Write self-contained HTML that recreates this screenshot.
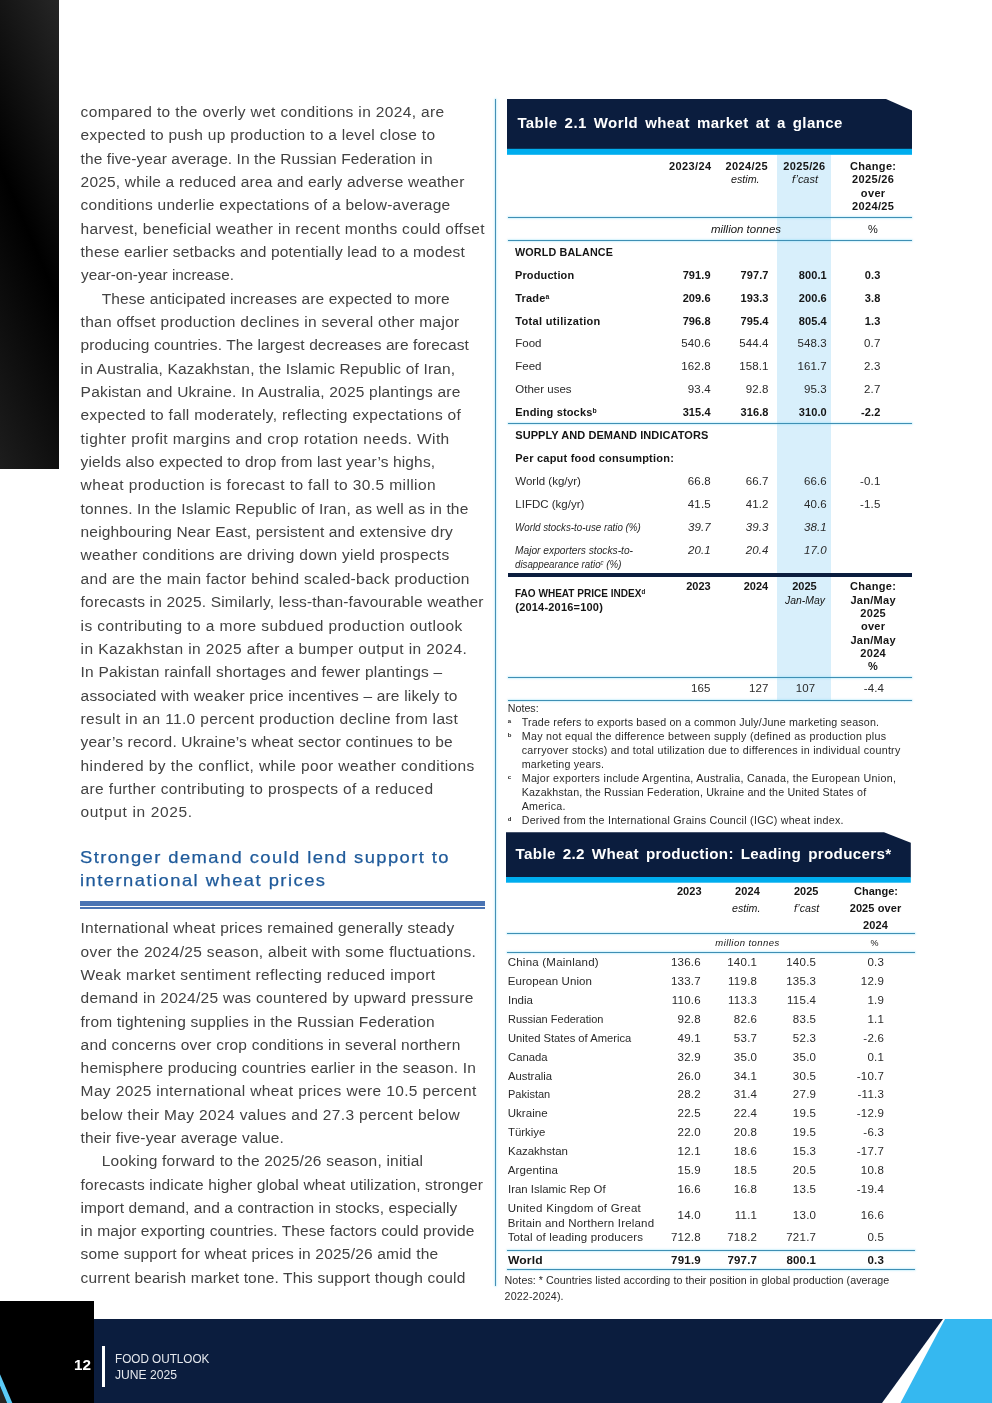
<!DOCTYPE html>
<html lang="en"><head><meta charset="utf-8"><title>Food Outlook June 2025 - page 12</title>
<style>
html,body{margin:0;padding:0;background:#fff;}
body{width:992px;height:1403px;position:relative;overflow:hidden;font-family:'Liberation Sans', sans-serif;}
.t{position:absolute;white-space:pre;margin:0;padding:0;}
sup{font-size:62%;line-height:0;vertical-align:baseline;position:relative;top:-0.38em;}
</style></head><body>
<div style="position:absolute;left:0px;top:0px;width:59px;height:469px;background:#000;background:linear-gradient(67deg,#1d1d1d 0%,#000 50%,#262626 100%);"></div>
<svg style="position:absolute;left:0;top:1300px" width="992" height="103" viewBox="0 1300 992 103">
<rect x="94" y="1319" width="898" height="84" fill="#0b1d3e"/>
<polygon points="943,1319 992,1319 992,1403 882,1403" fill="#ffffff"/>
<polygon points="945,1319 992,1319 992,1403 900.5,1403" fill="#35b8f0"/>
<rect x="0" y="1301" width="94" height="102" fill="#000"/>
<polygon points="0,1386 7.1,1403 0,1403" fill="#262422"/>
<polygon points="0,1374.2 12.3,1403 7.1,1403 0,1385.8" fill="#5bcbf7"/>
<rect x="102" y="1346" width="3" height="41" fill="#fff"/>
</svg>
<div style="position:absolute;left:495px;top:99px;width:1px;height:1186.6px;background:#4690b5;box-shadow:0 0 1.5px 0.5px rgba(120,215,245,0.5);"></div>
<div style="position:absolute;left:79.6px;top:901px;width:405.4px;height:4.7px;background:#4a74b4;"></div>
<div style="position:absolute;left:79.6px;top:907.1px;width:405.4px;height:1.9px;background:#4a74b4;"></div>
<svg style="position:absolute;left:507px;top:99px" width="405" height="56" viewBox="0 0 405 56"><polygon points="0,0 379,0 405,11.4 405,50 0,50" fill="#0b1d3e"/><rect x="0" y="49.8" width="405" height="6" fill="#00adee"/></svg>
<div style="position:absolute;left:777px;top:155px;width:54px;height:545px;background:#d8effb;"></div>
<div style="position:absolute;left:508px;top:217px;width:404px;height:1px;background:#3f8fb4;box-shadow:0 0 1.5px 0.5px rgba(120,215,245,0.55);"></div>
<div style="position:absolute;left:508px;top:240px;width:404px;height:1px;background:#3f8fb4;box-shadow:0 0 1.5px 0.5px rgba(120,215,245,0.55);"></div>
<div style="position:absolute;left:508px;top:423px;width:404px;height:1px;background:#3f8fb4;box-shadow:0 0 1.5px 0.5px rgba(120,215,245,0.55);"></div>
<div style="position:absolute;left:508px;top:677px;width:404px;height:1px;background:#3f8fb4;box-shadow:0 0 1.5px 0.5px rgba(120,215,245,0.55);"></div>
<div style="position:absolute;left:508px;top:700px;width:404px;height:1px;background:#3f8fb4;box-shadow:0 0 1.5px 0.5px rgba(120,215,245,0.55);"></div>
<div style="position:absolute;left:507.6px;top:572.8px;width:404.4px;height:3.9px;background:#0b1d3e;"></div>
<svg style="position:absolute;left:506px;top:832px" width="405" height="51" viewBox="0 0 405 51"><polygon points="0,0.3 378,0.3 404.8,10.8 404.8,45.5 0,45.5" fill="#0b1d3e"/><rect x="0" y="45" width="404.8" height="5.7" fill="#00adee"/></svg>
<div style="position:absolute;left:507px;top:933px;width:408px;height:1px;background:#3f8fb4;box-shadow:0 0 1.5px 0.5px rgba(120,215,245,0.55);"></div>
<div style="position:absolute;left:507px;top:952px;width:408px;height:1px;background:#3f8fb4;box-shadow:0 0 1.5px 0.5px rgba(120,215,245,0.55);"></div>
<div style="position:absolute;left:507px;top:1250px;width:408px;height:1px;background:#3f8fb4;box-shadow:0 0 1.5px 0.5px rgba(120,215,245,0.55);"></div>
<div style="position:absolute;left:507px;top:1269px;width:408px;height:1px;background:#3f8fb4;box-shadow:0 0 1.5px 0.5px rgba(120,215,245,0.55);"></div>
<div class="t" style="left:74.00px;transform:scaleX(0.9855);transform-origin:0 0;top:1355px;font:700 15.5px 'Liberation Sans', sans-serif;line-height:19px;color:#fff;">12</div>
<div class="t" style="left:115.00px;transform:scaleX(0.9013);transform-origin:0 0;top:1350px;font:400 13px 'Liberation Sans', sans-serif;line-height:17px;color:#e6e9ee;">FOOD OUTLOOK</div>
<div class="t" style="left:115.00px;transform:scaleX(0.9325);transform-origin:0 0;top:1366px;font:400 13px 'Liberation Sans', sans-serif;line-height:17px;color:#e6e9ee;">JUNE 2025</div>
<div class="t" style="left:80.60px;top:102px;font:400 15.5px 'Liberation Sans', sans-serif;line-height:19px;color:#424242;letter-spacing:0.349px;">compared to the overly wet conditions in 2024, are</div>
<div class="t" style="left:80.60px;top:125px;font:400 15.5px 'Liberation Sans', sans-serif;line-height:19px;color:#424242;letter-spacing:0.288px;">expected to push up production to a level close to</div>
<div class="t" style="left:80.60px;top:149px;font:400 15.5px 'Liberation Sans', sans-serif;line-height:19px;color:#424242;letter-spacing:0.078px;">the five-year average. In the Russian Federation in</div>
<div class="t" style="left:80.60px;top:172px;font:400 15.5px 'Liberation Sans', sans-serif;line-height:19px;color:#424242;letter-spacing:0.191px;">2025, while a reduced area and early adverse weather</div>
<div class="t" style="left:80.60px;top:195px;font:400 15.5px 'Liberation Sans', sans-serif;line-height:19px;color:#424242;letter-spacing:0.257px;">conditions underlie expectations of a below-average</div>
<div class="t" style="left:80.60px;top:219px;font:400 15.5px 'Liberation Sans', sans-serif;line-height:19px;color:#424242;letter-spacing:0.309px;">harvest, beneficial weather in recent months could offset</div>
<div class="t" style="left:80.60px;top:242px;font:400 15.5px 'Liberation Sans', sans-serif;line-height:19px;color:#424242;letter-spacing:0.190px;">these earlier setbacks and potentially lead to a modest</div>
<div class="t" style="left:80.60px;transform:scaleX(0.9860);transform-origin:0 0;top:265px;font:400 15.5px 'Liberation Sans', sans-serif;line-height:19px;color:#424242;">year-on-year increase.</div>
<div class="t" style="left:101.80px;top:289px;font:400 15.5px 'Liberation Sans', sans-serif;line-height:19px;color:#424242;letter-spacing:0.088px;">These anticipated increases are expected to more</div>
<div class="t" style="left:80.60px;top:312px;font:400 15.5px 'Liberation Sans', sans-serif;line-height:19px;color:#424242;letter-spacing:0.290px;">than offset production declines in several other major</div>
<div class="t" style="left:80.60px;top:335px;font:400 15.5px 'Liberation Sans', sans-serif;line-height:19px;color:#424242;letter-spacing:0.094px;">producing countries. The largest decreases are forecast</div>
<div class="t" style="left:80.60px;top:359px;font:400 15.5px 'Liberation Sans', sans-serif;line-height:19px;color:#424242;letter-spacing:0.172px;">in Australia, Kazakhstan, the Islamic Republic of Iran,</div>
<div class="t" style="left:80.60px;top:382px;font:400 15.5px 'Liberation Sans', sans-serif;line-height:19px;color:#424242;letter-spacing:0.206px;">Pakistan and Ukraine. In Australia, 2025 plantings are</div>
<div class="t" style="left:80.60px;top:405px;font:400 15.5px 'Liberation Sans', sans-serif;line-height:19px;color:#424242;letter-spacing:0.297px;">expected to fall moderately, reflecting expectations of</div>
<div class="t" style="left:80.60px;top:429px;font:400 15.5px 'Liberation Sans', sans-serif;line-height:19px;color:#424242;letter-spacing:0.403px;">tighter profit margins and crop rotation needs. With</div>
<div class="t" style="left:80.60px;top:452px;font:400 15.5px 'Liberation Sans', sans-serif;line-height:19px;color:#424242;letter-spacing:0.137px;">yields also expected to drop from last year’s highs,</div>
<div class="t" style="left:80.60px;top:475px;font:400 15.5px 'Liberation Sans', sans-serif;line-height:19px;color:#424242;letter-spacing:0.406px;">wheat production is forecast to fall to 30.5 million</div>
<div class="t" style="left:80.60px;top:499px;font:400 15.5px 'Liberation Sans', sans-serif;line-height:19px;color:#424242;letter-spacing:0.166px;">tonnes. In the Islamic Republic of Iran, as well as in the</div>
<div class="t" style="left:80.60px;top:522px;font:400 15.5px 'Liberation Sans', sans-serif;line-height:19px;color:#424242;letter-spacing:0.150px;">neighbouring Near East, persistent and extensive dry</div>
<div class="t" style="left:80.60px;top:545px;font:400 15.5px 'Liberation Sans', sans-serif;line-height:19px;color:#424242;letter-spacing:0.272px;">weather conditions are driving down yield prospects</div>
<div class="t" style="left:80.60px;top:569px;font:400 15.5px 'Liberation Sans', sans-serif;line-height:19px;color:#424242;letter-spacing:0.286px;">and are the main factor behind scaled-back production</div>
<div class="t" style="left:80.60px;top:592px;font:400 15.5px 'Liberation Sans', sans-serif;line-height:19px;color:#424242;letter-spacing:0.181px;">forecasts in 2025. Similarly, less-than-favourable weather</div>
<div class="t" style="left:80.60px;top:616px;font:400 15.5px 'Liberation Sans', sans-serif;line-height:19px;color:#424242;letter-spacing:0.422px;">is contributing to a more subdued production outlook</div>
<div class="t" style="left:80.60px;top:639px;font:400 15.5px 'Liberation Sans', sans-serif;line-height:19px;color:#424242;letter-spacing:0.425px;">in Kazakhstan in 2025 after a bumper output in 2024.</div>
<div class="t" style="left:80.60px;top:662px;font:400 15.5px 'Liberation Sans', sans-serif;line-height:19px;color:#424242;letter-spacing:0.212px;">In Pakistan rainfall shortages and fewer plantings –</div>
<div class="t" style="left:80.60px;top:686px;font:400 15.5px 'Liberation Sans', sans-serif;line-height:19px;color:#424242;letter-spacing:0.179px;">associated with weaker price incentives – are likely to</div>
<div class="t" style="left:80.60px;top:709px;font:400 15.5px 'Liberation Sans', sans-serif;line-height:19px;color:#424242;letter-spacing:0.343px;">result in an 11.0 percent production decline from last</div>
<div class="t" style="left:80.60px;top:732px;font:400 15.5px 'Liberation Sans', sans-serif;line-height:19px;color:#424242;letter-spacing:0.147px;">year’s record. Ukraine’s wheat sector continues to be</div>
<div class="t" style="left:80.60px;top:756px;font:400 15.5px 'Liberation Sans', sans-serif;line-height:19px;color:#424242;letter-spacing:0.399px;">hindered by the conflict, while poor weather conditions</div>
<div class="t" style="left:80.60px;top:779px;font:400 15.5px 'Liberation Sans', sans-serif;line-height:19px;color:#424242;letter-spacing:0.354px;">are further contributing to prospects of a reduced</div>
<div class="t" style="left:80.60px;top:802px;font:400 15.5px 'Liberation Sans', sans-serif;line-height:19px;color:#424242;letter-spacing:0.638px;">output in 2025.</div>
<div class="t" style="left:80.60px;top:918px;font:400 15.5px 'Liberation Sans', sans-serif;line-height:19px;color:#424242;letter-spacing:0.213px;">International wheat prices remained generally steady</div>
<div class="t" style="left:80.60px;top:942px;font:400 15.5px 'Liberation Sans', sans-serif;line-height:19px;color:#424242;letter-spacing:0.331px;">over the 2024/25 season, albeit with some fluctuations.</div>
<div class="t" style="left:80.60px;top:965px;font:400 15.5px 'Liberation Sans', sans-serif;line-height:19px;color:#424242;letter-spacing:0.371px;">Weak market sentiment reflecting reduced import</div>
<div class="t" style="left:80.60px;top:988px;font:400 15.5px 'Liberation Sans', sans-serif;line-height:19px;color:#424242;letter-spacing:0.296px;">demand in 2024/25 was countered by upward pressure</div>
<div class="t" style="left:80.60px;top:1012px;font:400 15.5px 'Liberation Sans', sans-serif;line-height:19px;color:#424242;letter-spacing:0.191px;">from tightening supplies in the Russian Federation</div>
<div class="t" style="left:80.60px;top:1035px;font:400 15.5px 'Liberation Sans', sans-serif;line-height:19px;color:#424242;letter-spacing:0.210px;">and concerns over crop conditions in several northern</div>
<div class="t" style="left:80.60px;top:1058px;font:400 15.5px 'Liberation Sans', sans-serif;line-height:19px;color:#424242;letter-spacing:0.169px;">hemisphere producing countries earlier in the season. In</div>
<div class="t" style="left:80.60px;top:1081px;font:400 15.5px 'Liberation Sans', sans-serif;line-height:19px;color:#424242;letter-spacing:0.371px;">May 2025 international wheat prices were 10.5 percent</div>
<div class="t" style="left:80.60px;top:1105px;font:400 15.5px 'Liberation Sans', sans-serif;line-height:19px;color:#424242;letter-spacing:0.353px;">below their May 2024 values and 27.3 percent below</div>
<div class="t" style="left:80.60px;top:1128px;font:400 15.5px 'Liberation Sans', sans-serif;line-height:19px;color:#424242;letter-spacing:0.118px;">their five-year average value.</div>
<div class="t" style="left:101.80px;top:1151px;font:400 15.5px 'Liberation Sans', sans-serif;line-height:19px;color:#424242;letter-spacing:0.206px;">Looking forward to the 2025/26 season, initial</div>
<div class="t" style="left:80.60px;top:1175px;font:400 15.5px 'Liberation Sans', sans-serif;line-height:19px;color:#424242;letter-spacing:0.146px;">forecasts indicate higher global wheat utilization, stronger</div>
<div class="t" style="left:80.60px;top:1198px;font:400 15.5px 'Liberation Sans', sans-serif;line-height:19px;color:#424242;letter-spacing:0.085px;">import demand, and a contraction in stocks, especially</div>
<div class="t" style="left:80.60px;top:1221px;font:400 15.5px 'Liberation Sans', sans-serif;line-height:19px;color:#424242;letter-spacing:0.083px;">in major exporting countries. These factors could provide</div>
<div class="t" style="left:80.60px;top:1244px;font:400 15.5px 'Liberation Sans', sans-serif;line-height:19px;color:#424242;letter-spacing:0.196px;">some support for wheat prices in 2025/26 amid the</div>
<div class="t" style="left:80.60px;top:1268px;font:400 15.5px 'Liberation Sans', sans-serif;line-height:19px;color:#424242;letter-spacing:0.160px;">current bearish market tone. This support though could</div>
<div class="t" style="left:80.40px;transform:scaleX(1.0800);transform-origin:0 0;top:847px;font:400 17px 'Liberation Sans', sans-serif;line-height:21px;color:#1f5a9a;letter-spacing:1.313px;-webkit-text-stroke:0.25px #1f5a9a;">Stronger demand could lend support to</div>
<div class="t" style="left:80.40px;transform:scaleX(1.0800);transform-origin:0 0;top:870px;font:400 17px 'Liberation Sans', sans-serif;line-height:21px;color:#1f5a9a;letter-spacing:1.363px;-webkit-text-stroke:0.25px #1f5a9a;">international wheat prices</div>
<div class="t" style="left:517.40px;top:113px;font:700 15px 'Liberation Sans', sans-serif;line-height:19px;color:#fff;letter-spacing:0.417px;word-spacing:2.5px;">Table 2.1 World wheat market at a glance</div>
<div class="t" style="left:669.00px;top:159px;font:700 11px 'Liberation Sans', sans-serif;line-height:14px;color:#151515;letter-spacing:0.372px;">2023/24</div>
<div class="t" style="left:725.50px;top:159px;font:700 11px 'Liberation Sans', sans-serif;line-height:14px;color:#151515;letter-spacing:0.372px;">2024/25</div>
<div class="t" style="left:783.20px;top:159px;font:700 11px 'Liberation Sans', sans-serif;line-height:14px;color:#151515;letter-spacing:0.372px;">2025/26</div>
<div class="t" style="left:730.70px;transform:scaleX(0.9325);transform-origin:0 0;top:172px;font:italic 400 11.5px 'Liberation Sans', sans-serif;line-height:14px;color:#151515;">estim.</div>
<div class="t" style="left:791.50px;transform:scaleX(0.9530);transform-origin:0 0;top:172px;font:italic 400 11.5px 'Liberation Sans', sans-serif;line-height:14px;color:#151515;">f’cast</div>
<div class="t" style="left:849.95px;top:159px;font:700 11px 'Liberation Sans', sans-serif;line-height:14px;color:#151515;letter-spacing:0.350px;">Change:</div>
<div class="t" style="left:852.07px;top:172px;font:700 11px 'Liberation Sans', sans-serif;line-height:14px;color:#151515;letter-spacing:0.350px;">2025/26</div>
<div class="t" style="left:860.85px;top:186px;font:700 11px 'Liberation Sans', sans-serif;line-height:14px;color:#151515;letter-spacing:0.350px;">over</div>
<div class="t" style="left:852.07px;top:199px;font:700 11px 'Liberation Sans', sans-serif;line-height:14px;color:#151515;letter-spacing:0.350px;">2024/25</div>
<div class="t" style="left:711.00px;transform:scaleX(0.9953);transform-origin:0 0;top:222px;font:italic 400 11.5px 'Liberation Sans', sans-serif;line-height:14px;color:#151515;">million tonnes</div>
<div class="t" style="left:868.11px;top:222px;font:400 11px 'Liberation Sans', sans-serif;line-height:14px;color:#151515;">%</div>
<div class="t" style="left:515.30px;transform:scaleX(0.9777);transform-origin:0 0;top:245px;font:700 11px 'Liberation Sans', sans-serif;line-height:14px;color:#151515;letter-spacing:0.150px;">WORLD BALANCE</div>
<div class="t" style="left:515.30px;transform:scaleX(0.9955);transform-origin:0 0;top:268px;font:700 11px 'Liberation Sans', sans-serif;line-height:14px;color:#151515;letter-spacing:0.150px;">Production</div>
<div class="t" style="left:682.67px;top:268px;font:700 11px 'Liberation Sans', sans-serif;line-height:14px;color:#151515;letter-spacing:0.100px;">791.9</div>
<div class="t" style="left:740.57px;top:268px;font:700 11px 'Liberation Sans', sans-serif;line-height:14px;color:#151515;letter-spacing:0.100px;">797.7</div>
<div class="t" style="left:798.77px;top:268px;font:700 11px 'Liberation Sans', sans-serif;line-height:14px;color:#151515;letter-spacing:0.100px;">800.1</div>
<div class="t" style="left:864.80px;top:268px;font:700 11px 'Liberation Sans', sans-serif;line-height:14px;color:#151515;letter-spacing:0.100px;">0.3</div>
<div class="t" style="left:515.30px;top:291px;font:700 11px 'Liberation Sans', sans-serif;line-height:14px;color:#151515;letter-spacing:0.150px;">Trade<sup>a</sup></div>
<div class="t" style="left:682.67px;top:291px;font:700 11px 'Liberation Sans', sans-serif;line-height:14px;color:#151515;letter-spacing:0.100px;">209.6</div>
<div class="t" style="left:740.57px;top:291px;font:700 11px 'Liberation Sans', sans-serif;line-height:14px;color:#151515;letter-spacing:0.100px;">193.3</div>
<div class="t" style="left:798.77px;top:291px;font:700 11px 'Liberation Sans', sans-serif;line-height:14px;color:#151515;letter-spacing:0.100px;">200.6</div>
<div class="t" style="left:864.80px;top:291px;font:700 11px 'Liberation Sans', sans-serif;line-height:14px;color:#151515;letter-spacing:0.100px;">3.8</div>
<div class="t" style="left:515.30px;top:314px;font:700 11px 'Liberation Sans', sans-serif;line-height:14px;color:#151515;letter-spacing:0.322px;">Total utilization</div>
<div class="t" style="left:682.67px;top:314px;font:700 11px 'Liberation Sans', sans-serif;line-height:14px;color:#151515;letter-spacing:0.100px;">796.8</div>
<div class="t" style="left:740.57px;top:314px;font:700 11px 'Liberation Sans', sans-serif;line-height:14px;color:#151515;letter-spacing:0.100px;">795.4</div>
<div class="t" style="left:798.77px;top:314px;font:700 11px 'Liberation Sans', sans-serif;line-height:14px;color:#151515;letter-spacing:0.100px;">805.4</div>
<div class="t" style="left:864.80px;top:314px;font:700 11px 'Liberation Sans', sans-serif;line-height:14px;color:#151515;letter-spacing:0.100px;">1.3</div>
<div class="t" style="left:515.30px;top:336px;font:400 11.5px 'Liberation Sans', sans-serif;line-height:14px;color:#2a2a2a;">Food</div>
<div class="t" style="left:681.34px;top:336px;font:400 11.5px 'Liberation Sans', sans-serif;line-height:14px;color:#2a2a2a;letter-spacing:0.120px;">540.6</div>
<div class="t" style="left:739.24px;top:336px;font:400 11.5px 'Liberation Sans', sans-serif;line-height:14px;color:#2a2a2a;letter-spacing:0.120px;">544.4</div>
<div class="t" style="left:797.44px;top:336px;font:400 11.5px 'Liberation Sans', sans-serif;line-height:14px;color:#2a2a2a;letter-spacing:0.120px;">548.3</div>
<div class="t" style="left:864.06px;top:336px;font:400 11.5px 'Liberation Sans', sans-serif;line-height:14px;color:#2a2a2a;letter-spacing:0.120px;">0.7</div>
<div class="t" style="left:515.30px;top:359px;font:400 11.5px 'Liberation Sans', sans-serif;line-height:14px;color:#2a2a2a;">Feed</div>
<div class="t" style="left:681.34px;top:359px;font:400 11.5px 'Liberation Sans', sans-serif;line-height:14px;color:#2a2a2a;letter-spacing:0.120px;">162.8</div>
<div class="t" style="left:739.24px;top:359px;font:400 11.5px 'Liberation Sans', sans-serif;line-height:14px;color:#2a2a2a;letter-spacing:0.120px;">158.1</div>
<div class="t" style="left:797.44px;top:359px;font:400 11.5px 'Liberation Sans', sans-serif;line-height:14px;color:#2a2a2a;letter-spacing:0.120px;">161.7</div>
<div class="t" style="left:864.06px;top:359px;font:400 11.5px 'Liberation Sans', sans-serif;line-height:14px;color:#2a2a2a;letter-spacing:0.120px;">2.3</div>
<div class="t" style="left:515.30px;top:382px;font:400 11.5px 'Liberation Sans', sans-serif;line-height:14px;color:#2a2a2a;">Other uses</div>
<div class="t" style="left:687.85px;top:382px;font:400 11.5px 'Liberation Sans', sans-serif;line-height:14px;color:#2a2a2a;letter-spacing:0.120px;">93.4</div>
<div class="t" style="left:745.75px;top:382px;font:400 11.5px 'Liberation Sans', sans-serif;line-height:14px;color:#2a2a2a;letter-spacing:0.120px;">92.8</div>
<div class="t" style="left:803.95px;top:382px;font:400 11.5px 'Liberation Sans', sans-serif;line-height:14px;color:#2a2a2a;letter-spacing:0.120px;">95.3</div>
<div class="t" style="left:864.06px;top:382px;font:400 11.5px 'Liberation Sans', sans-serif;line-height:14px;color:#2a2a2a;letter-spacing:0.120px;">2.7</div>
<div class="t" style="left:515.30px;top:405px;font:700 11px 'Liberation Sans', sans-serif;line-height:14px;color:#151515;letter-spacing:0.150px;">Ending stocks<sup>b</sup></div>
<div class="t" style="left:682.67px;top:405px;font:700 11px 'Liberation Sans', sans-serif;line-height:14px;color:#151515;letter-spacing:0.100px;">315.4</div>
<div class="t" style="left:740.57px;top:405px;font:700 11px 'Liberation Sans', sans-serif;line-height:14px;color:#151515;letter-spacing:0.100px;">316.8</div>
<div class="t" style="left:798.77px;top:405px;font:700 11px 'Liberation Sans', sans-serif;line-height:14px;color:#151515;letter-spacing:0.100px;">310.0</div>
<div class="t" style="left:861.03px;top:405px;font:700 11px 'Liberation Sans', sans-serif;line-height:14px;color:#151515;letter-spacing:0.100px;">-2.2</div>
<div class="t" style="left:515.30px;top:428px;font:700 11px 'Liberation Sans', sans-serif;line-height:14px;color:#151515;letter-spacing:0.070px;">SUPPLY AND DEMAND INDICATORS</div>
<div class="t" style="left:515.30px;top:451px;font:700 11px 'Liberation Sans', sans-serif;line-height:14px;color:#151515;letter-spacing:0.220px;">Per caput food consumption:</div>
<div class="t" style="left:515.30px;top:474px;font:400 11.5px 'Liberation Sans', sans-serif;line-height:14px;color:#2a2a2a;">World (kg/yr)</div>
<div class="t" style="left:687.85px;top:474px;font:400 11.5px 'Liberation Sans', sans-serif;line-height:14px;color:#2a2a2a;letter-spacing:0.120px;">66.8</div>
<div class="t" style="left:745.75px;top:474px;font:400 11.5px 'Liberation Sans', sans-serif;line-height:14px;color:#2a2a2a;letter-spacing:0.120px;">66.7</div>
<div class="t" style="left:803.95px;top:474px;font:400 11.5px 'Liberation Sans', sans-serif;line-height:14px;color:#2a2a2a;letter-spacing:0.120px;">66.6</div>
<div class="t" style="left:860.11px;top:474px;font:400 11.5px 'Liberation Sans', sans-serif;line-height:14px;color:#2a2a2a;letter-spacing:0.120px;">-0.1</div>
<div class="t" style="left:515.30px;top:497px;font:400 11.5px 'Liberation Sans', sans-serif;line-height:14px;color:#2a2a2a;">LIFDC (kg/yr)</div>
<div class="t" style="left:687.85px;top:497px;font:400 11.5px 'Liberation Sans', sans-serif;line-height:14px;color:#2a2a2a;letter-spacing:0.120px;">41.5</div>
<div class="t" style="left:745.75px;top:497px;font:400 11.5px 'Liberation Sans', sans-serif;line-height:14px;color:#2a2a2a;letter-spacing:0.120px;">41.2</div>
<div class="t" style="left:803.95px;top:497px;font:400 11.5px 'Liberation Sans', sans-serif;line-height:14px;color:#2a2a2a;letter-spacing:0.120px;">40.6</div>
<div class="t" style="left:860.11px;top:497px;font:400 11.5px 'Liberation Sans', sans-serif;line-height:14px;color:#2a2a2a;letter-spacing:0.120px;">-1.5</div>
<div class="t" style="left:515.30px;transform:scaleX(0.8485);transform-origin:0 0;top:520px;font:italic 400 11.5px 'Liberation Sans', sans-serif;line-height:14px;color:#2a2a2a;">World stocks-to-use ratio (%)</div>
<div class="t" style="left:687.91px;top:520px;font:italic 400 11.5px 'Liberation Sans', sans-serif;line-height:14px;color:#2a2a2a;letter-spacing:0.100px;">39.7</div>
<div class="t" style="left:745.81px;top:520px;font:italic 400 11.5px 'Liberation Sans', sans-serif;line-height:14px;color:#2a2a2a;letter-spacing:0.100px;">39.3</div>
<div class="t" style="left:804.01px;top:520px;font:italic 400 11.5px 'Liberation Sans', sans-serif;line-height:14px;color:#2a2a2a;letter-spacing:0.100px;">38.1</div>
<div class="t" style="left:515.30px;transform:scaleX(0.8876);transform-origin:0 0;top:543px;font:italic 400 11.5px 'Liberation Sans', sans-serif;line-height:14px;color:#2a2a2a;">Major exporters stocks-to-</div>
<div class="t" style="left:687.91px;top:543px;font:italic 400 11.5px 'Liberation Sans', sans-serif;line-height:14px;color:#2a2a2a;letter-spacing:0.100px;">20.1</div>
<div class="t" style="left:745.81px;top:543px;font:italic 400 11.5px 'Liberation Sans', sans-serif;line-height:14px;color:#2a2a2a;letter-spacing:0.100px;">20.4</div>
<div class="t" style="left:804.01px;top:543px;font:italic 400 11.5px 'Liberation Sans', sans-serif;line-height:14px;color:#2a2a2a;letter-spacing:0.100px;">17.0</div>
<div class="t" style="left:515.30px;transform:scaleX(0.8471);transform-origin:0 0;top:557px;font:italic 400 11.5px 'Liberation Sans', sans-serif;line-height:14px;color:#2a2a2a;">disappearance ratio<sup>c</sup> (%)</div>
<div class="t" style="left:515.30px;transform:scaleX(0.9124);transform-origin:0 0;top:586px;font:700 11px 'Liberation Sans', sans-serif;line-height:14px;color:#151515;">FAO WHEAT PRICE INDEX<sup>d</sup></div>
<div class="t" style="left:515.30px;top:600px;font:700 11px 'Liberation Sans', sans-serif;line-height:14px;color:#151515;letter-spacing:0.199px;">(2014-2016=100)</div>
<div class="t" style="left:686.25px;top:579px;font:700 11px 'Liberation Sans', sans-serif;line-height:14px;color:#151515;letter-spacing:0.005px;">2023</div>
<div class="t" style="left:743.75px;top:579px;font:700 11px 'Liberation Sans', sans-serif;line-height:14px;color:#151515;letter-spacing:0.005px;">2024</div>
<div class="t" style="left:792.25px;top:579px;font:700 11px 'Liberation Sans', sans-serif;line-height:14px;color:#151515;letter-spacing:0.005px;">2025</div>
<div class="t" style="left:784.50px;transform:scaleX(0.9068);transform-origin:0 0;top:593px;font:italic 400 11.5px 'Liberation Sans', sans-serif;line-height:14px;color:#151515;">Jan-May</div>
<div class="t" style="left:850.10px;top:579px;font:700 11px 'Liberation Sans', sans-serif;line-height:14px;color:#151515;letter-spacing:0.300px;">Change:</div>
<div class="t" style="left:850.39px;top:593px;font:700 11px 'Liberation Sans', sans-serif;line-height:14px;color:#151515;letter-spacing:0.300px;">Jan/May</div>
<div class="t" style="left:860.31px;top:606px;font:700 11px 'Liberation Sans', sans-serif;line-height:14px;color:#151515;letter-spacing:0.300px;">2025</div>
<div class="t" style="left:860.92px;top:619px;font:700 11px 'Liberation Sans', sans-serif;line-height:14px;color:#151515;letter-spacing:0.300px;">over</div>
<div class="t" style="left:850.39px;top:633px;font:700 11px 'Liberation Sans', sans-serif;line-height:14px;color:#151515;letter-spacing:0.300px;">Jan/May</div>
<div class="t" style="left:860.31px;top:646px;font:700 11px 'Liberation Sans', sans-serif;line-height:14px;color:#151515;letter-spacing:0.300px;">2024</div>
<div class="t" style="left:868.11px;top:659px;font:700 11px 'Liberation Sans', sans-serif;line-height:14px;color:#151515;letter-spacing:0.300px;">%</div>
<div class="t" style="left:690.97px;top:681px;font:400 11.5px 'Liberation Sans', sans-serif;line-height:14px;color:#2a2a2a;letter-spacing:0.120px;">165</div>
<div class="t" style="left:749.07px;top:681px;font:400 11.5px 'Liberation Sans', sans-serif;line-height:14px;color:#2a2a2a;letter-spacing:0.120px;">127</div>
<div class="t" style="left:795.77px;top:681px;font:400 11.5px 'Liberation Sans', sans-serif;line-height:14px;color:#2a2a2a;letter-spacing:0.120px;">107</div>
<div class="t" style="left:863.71px;top:681px;font:400 11.5px 'Liberation Sans', sans-serif;line-height:14px;color:#2a2a2a;letter-spacing:0.120px;">-4.4</div>
<div class="t" style="left:507.80px;top:701px;font:400 10.7px 'Liberation Sans', sans-serif;line-height:14px;color:#2a2a2a;">Notes:</div>
<div class="t" style="left:507.80px;top:717px;font:700 6px 'Liberation Sans', sans-serif;line-height:8px;color:#2a2a2a;">a</div>
<div class="t" style="left:521.70px;top:715px;font:400 10.7px 'Liberation Sans', sans-serif;line-height:14px;color:#2a2a2a;letter-spacing:0.167px;">Trade refers to exports based on a common July/June marketing season.</div>
<div class="t" style="left:507.80px;top:731px;font:700 6px 'Liberation Sans', sans-serif;line-height:8px;color:#2a2a2a;">b</div>
<div class="t" style="left:521.70px;top:729px;font:400 10.7px 'Liberation Sans', sans-serif;line-height:14px;color:#2a2a2a;letter-spacing:0.303px;">May not equal the difference between supply (defined as production plus</div>
<div class="t" style="left:521.70px;top:743px;font:400 10.7px 'Liberation Sans', sans-serif;line-height:14px;color:#2a2a2a;letter-spacing:0.268px;">carryover stocks) and total utilization due to differences in individual country</div>
<div class="t" style="left:521.70px;top:757px;font:400 10.7px 'Liberation Sans', sans-serif;line-height:14px;color:#2a2a2a;letter-spacing:0.220px;">marketing years.</div>
<div class="t" style="left:507.80px;top:773px;font:700 6px 'Liberation Sans', sans-serif;line-height:8px;color:#2a2a2a;">c</div>
<div class="t" style="left:521.70px;top:771px;font:400 10.7px 'Liberation Sans', sans-serif;line-height:14px;color:#2a2a2a;letter-spacing:0.287px;">Major exporters include Argentina, Australia, Canada, the European Union,</div>
<div class="t" style="left:521.70px;top:785px;font:400 10.7px 'Liberation Sans', sans-serif;line-height:14px;color:#2a2a2a;letter-spacing:0.175px;">Kazakhstan, the Russian Federation, Ukraine and the United States of</div>
<div class="t" style="left:521.70px;top:799px;font:400 10.7px 'Liberation Sans', sans-serif;line-height:14px;color:#2a2a2a;letter-spacing:0.218px;">America.</div>
<div class="t" style="left:507.80px;top:815px;font:700 6px 'Liberation Sans', sans-serif;line-height:8px;color:#2a2a2a;">d</div>
<div class="t" style="left:521.70px;top:813px;font:400 10.7px 'Liberation Sans', sans-serif;line-height:14px;color:#2a2a2a;letter-spacing:0.252px;">Derived from the International Grains Council (IGC) wheat index.</div>
<div class="t" style="left:515.60px;top:844px;font:700 15.2px 'Liberation Sans', sans-serif;line-height:19px;color:#fff;letter-spacing:0.312px;word-spacing:2.5px;">Table 2.2 Wheat production: Leading producers*</div>
<div class="t" style="left:676.90px;top:884px;font:700 11px 'Liberation Sans', sans-serif;line-height:14px;color:#151515;letter-spacing:0.105px;">2023</div>
<div class="t" style="left:735.10px;top:884px;font:700 11px 'Liberation Sans', sans-serif;line-height:14px;color:#151515;letter-spacing:0.105px;">2024</div>
<div class="t" style="left:793.80px;transform:scaleX(0.9966);transform-origin:0 0;top:884px;font:700 11px 'Liberation Sans', sans-serif;line-height:14px;color:#151515;">2025</div>
<div class="t" style="left:732.20px;transform:scaleX(0.9259);transform-origin:0 0;top:901px;font:italic 400 11.5px 'Liberation Sans', sans-serif;line-height:14px;color:#151515;">estim.</div>
<div class="t" style="left:793.90px;transform:scaleX(0.9237);transform-origin:0 0;top:901px;font:italic 400 11.5px 'Liberation Sans', sans-serif;line-height:14px;color:#151515;">f’cast</div>
<div class="t" style="left:853.55px;transform:scaleX(0.9977);transform-origin:0 0;top:884px;font:700 11px 'Liberation Sans', sans-serif;line-height:14px;color:#151515;">Change:</div>
<div class="t" style="left:849.65px;top:901px;font:700 11px 'Liberation Sans', sans-serif;line-height:14px;color:#151515;letter-spacing:0.117px;">2025 over</div>
<div class="t" style="left:863.05px;top:918px;font:700 11px 'Liberation Sans', sans-serif;line-height:14px;color:#151515;letter-spacing:0.139px;">2024</div>
<div class="t" style="left:715.25px;top:936px;font:italic 400 9.5px 'Liberation Sans', sans-serif;line-height:13px;color:#151515;letter-spacing:0.462px;">million tonnes</div>
<div class="t" style="left:870.59px;top:937px;font:400 9px 'Liberation Sans', sans-serif;line-height:12px;color:#151515;">%</div>
<div class="t" style="left:507.70px;top:955px;font:400 11.5px 'Liberation Sans', sans-serif;line-height:14px;color:#2a2a2a;letter-spacing:0.228px;">China (Mainland)</div>
<div class="t" style="left:670.92px;top:955px;font:400 11.5px 'Liberation Sans', sans-serif;line-height:14px;color:#2a2a2a;letter-spacing:0.250px;">136.6</div>
<div class="t" style="left:727.22px;top:955px;font:400 11.5px 'Liberation Sans', sans-serif;line-height:14px;color:#2a2a2a;letter-spacing:0.250px;">140.1</div>
<div class="t" style="left:786.22px;top:955px;font:400 11.5px 'Liberation Sans', sans-serif;line-height:14px;color:#2a2a2a;letter-spacing:0.250px;">140.5</div>
<div class="t" style="left:867.40px;top:955px;font:400 11.5px 'Liberation Sans', sans-serif;line-height:14px;color:#2a2a2a;letter-spacing:0.250px;">0.3</div>
<div class="t" style="left:507.70px;top:974px;font:400 11.5px 'Liberation Sans', sans-serif;line-height:14px;color:#2a2a2a;letter-spacing:0.090px;">European Union</div>
<div class="t" style="left:670.92px;top:974px;font:400 11.5px 'Liberation Sans', sans-serif;line-height:14px;color:#2a2a2a;letter-spacing:0.250px;">133.7</div>
<div class="t" style="left:728.06px;top:974px;font:400 11.5px 'Liberation Sans', sans-serif;line-height:14px;color:#2a2a2a;letter-spacing:0.250px;">119.8</div>
<div class="t" style="left:786.22px;top:974px;font:400 11.5px 'Liberation Sans', sans-serif;line-height:14px;color:#2a2a2a;letter-spacing:0.250px;">135.3</div>
<div class="t" style="left:860.76px;top:974px;font:400 11.5px 'Liberation Sans', sans-serif;line-height:14px;color:#2a2a2a;letter-spacing:0.250px;">12.9</div>
<div class="t" style="left:507.70px;transform:scaleX(0.9985);transform-origin:0 0;top:993px;font:400 11.5px 'Liberation Sans', sans-serif;line-height:14px;color:#2a2a2a;">India</div>
<div class="t" style="left:671.76px;top:993px;font:400 11.5px 'Liberation Sans', sans-serif;line-height:14px;color:#2a2a2a;letter-spacing:0.250px;">110.6</div>
<div class="t" style="left:728.06px;top:993px;font:400 11.5px 'Liberation Sans', sans-serif;line-height:14px;color:#2a2a2a;letter-spacing:0.250px;">113.3</div>
<div class="t" style="left:787.06px;top:993px;font:400 11.5px 'Liberation Sans', sans-serif;line-height:14px;color:#2a2a2a;letter-spacing:0.250px;">115.4</div>
<div class="t" style="left:867.40px;top:993px;font:400 11.5px 'Liberation Sans', sans-serif;line-height:14px;color:#2a2a2a;letter-spacing:0.250px;">1.9</div>
<div class="t" style="left:507.70px;transform:scaleX(0.9565);transform-origin:0 0;top:1012px;font:400 11.5px 'Liberation Sans', sans-serif;line-height:14px;color:#2a2a2a;">Russian Federation</div>
<div class="t" style="left:677.56px;top:1012px;font:400 11.5px 'Liberation Sans', sans-serif;line-height:14px;color:#2a2a2a;letter-spacing:0.250px;">92.8</div>
<div class="t" style="left:733.86px;top:1012px;font:400 11.5px 'Liberation Sans', sans-serif;line-height:14px;color:#2a2a2a;letter-spacing:0.250px;">82.6</div>
<div class="t" style="left:792.86px;top:1012px;font:400 11.5px 'Liberation Sans', sans-serif;line-height:14px;color:#2a2a2a;letter-spacing:0.250px;">83.5</div>
<div class="t" style="left:867.40px;top:1012px;font:400 11.5px 'Liberation Sans', sans-serif;line-height:14px;color:#2a2a2a;letter-spacing:0.250px;">1.1</div>
<div class="t" style="left:507.70px;transform:scaleX(0.9742);transform-origin:0 0;top:1031px;font:400 11.5px 'Liberation Sans', sans-serif;line-height:14px;color:#2a2a2a;">United States of America</div>
<div class="t" style="left:677.56px;top:1031px;font:400 11.5px 'Liberation Sans', sans-serif;line-height:14px;color:#2a2a2a;letter-spacing:0.250px;">49.1</div>
<div class="t" style="left:733.86px;top:1031px;font:400 11.5px 'Liberation Sans', sans-serif;line-height:14px;color:#2a2a2a;letter-spacing:0.250px;">53.7</div>
<div class="t" style="left:792.86px;top:1031px;font:400 11.5px 'Liberation Sans', sans-serif;line-height:14px;color:#2a2a2a;letter-spacing:0.250px;">52.3</div>
<div class="t" style="left:863.32px;top:1031px;font:400 11.5px 'Liberation Sans', sans-serif;line-height:14px;color:#2a2a2a;letter-spacing:0.250px;">-2.6</div>
<div class="t" style="left:507.70px;transform:scaleX(0.9802);transform-origin:0 0;top:1050px;font:400 11.5px 'Liberation Sans', sans-serif;line-height:14px;color:#2a2a2a;">Canada</div>
<div class="t" style="left:677.56px;top:1050px;font:400 11.5px 'Liberation Sans', sans-serif;line-height:14px;color:#2a2a2a;letter-spacing:0.250px;">32.9</div>
<div class="t" style="left:733.86px;top:1050px;font:400 11.5px 'Liberation Sans', sans-serif;line-height:14px;color:#2a2a2a;letter-spacing:0.250px;">35.0</div>
<div class="t" style="left:792.86px;top:1050px;font:400 11.5px 'Liberation Sans', sans-serif;line-height:14px;color:#2a2a2a;letter-spacing:0.250px;">35.0</div>
<div class="t" style="left:867.40px;top:1050px;font:400 11.5px 'Liberation Sans', sans-serif;line-height:14px;color:#2a2a2a;letter-spacing:0.250px;">0.1</div>
<div class="t" style="left:507.70px;transform:scaleX(0.9832);transform-origin:0 0;top:1069px;font:400 11.5px 'Liberation Sans', sans-serif;line-height:14px;color:#2a2a2a;">Australia</div>
<div class="t" style="left:677.56px;top:1069px;font:400 11.5px 'Liberation Sans', sans-serif;line-height:14px;color:#2a2a2a;letter-spacing:0.250px;">26.0</div>
<div class="t" style="left:733.86px;top:1069px;font:400 11.5px 'Liberation Sans', sans-serif;line-height:14px;color:#2a2a2a;letter-spacing:0.250px;">34.1</div>
<div class="t" style="left:792.86px;top:1069px;font:400 11.5px 'Liberation Sans', sans-serif;line-height:14px;color:#2a2a2a;letter-spacing:0.250px;">30.5</div>
<div class="t" style="left:856.68px;top:1069px;font:400 11.5px 'Liberation Sans', sans-serif;line-height:14px;color:#2a2a2a;letter-spacing:0.250px;">-10.7</div>
<div class="t" style="left:507.70px;transform:scaleX(0.9567);transform-origin:0 0;top:1087px;font:400 11.5px 'Liberation Sans', sans-serif;line-height:14px;color:#2a2a2a;">Pakistan</div>
<div class="t" style="left:677.56px;top:1087px;font:400 11.5px 'Liberation Sans', sans-serif;line-height:14px;color:#2a2a2a;letter-spacing:0.250px;">28.2</div>
<div class="t" style="left:733.86px;top:1087px;font:400 11.5px 'Liberation Sans', sans-serif;line-height:14px;color:#2a2a2a;letter-spacing:0.250px;">31.4</div>
<div class="t" style="left:792.86px;top:1087px;font:400 11.5px 'Liberation Sans', sans-serif;line-height:14px;color:#2a2a2a;letter-spacing:0.250px;">27.9</div>
<div class="t" style="left:857.54px;top:1087px;font:400 11.5px 'Liberation Sans', sans-serif;line-height:14px;color:#2a2a2a;letter-spacing:0.250px;">-11.3</div>
<div class="t" style="left:507.70px;top:1106px;font:400 11.5px 'Liberation Sans', sans-serif;line-height:14px;color:#2a2a2a;letter-spacing:0.060px;">Ukraine</div>
<div class="t" style="left:677.56px;top:1106px;font:400 11.5px 'Liberation Sans', sans-serif;line-height:14px;color:#2a2a2a;letter-spacing:0.250px;">22.5</div>
<div class="t" style="left:733.86px;top:1106px;font:400 11.5px 'Liberation Sans', sans-serif;line-height:14px;color:#2a2a2a;letter-spacing:0.250px;">22.4</div>
<div class="t" style="left:792.86px;top:1106px;font:400 11.5px 'Liberation Sans', sans-serif;line-height:14px;color:#2a2a2a;letter-spacing:0.250px;">19.5</div>
<div class="t" style="left:856.68px;top:1106px;font:400 11.5px 'Liberation Sans', sans-serif;line-height:14px;color:#2a2a2a;letter-spacing:0.250px;">-12.9</div>
<div class="t" style="left:507.70px;transform:scaleX(0.9893);transform-origin:0 0;top:1125px;font:400 11.5px 'Liberation Sans', sans-serif;line-height:14px;color:#2a2a2a;">Türkiye</div>
<div class="t" style="left:677.56px;top:1125px;font:400 11.5px 'Liberation Sans', sans-serif;line-height:14px;color:#2a2a2a;letter-spacing:0.250px;">22.0</div>
<div class="t" style="left:733.86px;top:1125px;font:400 11.5px 'Liberation Sans', sans-serif;line-height:14px;color:#2a2a2a;letter-spacing:0.250px;">20.8</div>
<div class="t" style="left:792.86px;top:1125px;font:400 11.5px 'Liberation Sans', sans-serif;line-height:14px;color:#2a2a2a;letter-spacing:0.250px;">19.5</div>
<div class="t" style="left:863.32px;top:1125px;font:400 11.5px 'Liberation Sans', sans-serif;line-height:14px;color:#2a2a2a;letter-spacing:0.250px;">-6.3</div>
<div class="t" style="left:507.70px;transform:scaleX(0.9965);transform-origin:0 0;top:1144px;font:400 11.5px 'Liberation Sans', sans-serif;line-height:14px;color:#2a2a2a;">Kazakhstan</div>
<div class="t" style="left:677.56px;top:1144px;font:400 11.5px 'Liberation Sans', sans-serif;line-height:14px;color:#2a2a2a;letter-spacing:0.250px;">12.1</div>
<div class="t" style="left:733.86px;top:1144px;font:400 11.5px 'Liberation Sans', sans-serif;line-height:14px;color:#2a2a2a;letter-spacing:0.250px;">18.6</div>
<div class="t" style="left:792.86px;top:1144px;font:400 11.5px 'Liberation Sans', sans-serif;line-height:14px;color:#2a2a2a;letter-spacing:0.250px;">15.3</div>
<div class="t" style="left:856.68px;top:1144px;font:400 11.5px 'Liberation Sans', sans-serif;line-height:14px;color:#2a2a2a;letter-spacing:0.250px;">-17.7</div>
<div class="t" style="left:507.70px;top:1163px;font:400 11.5px 'Liberation Sans', sans-serif;line-height:14px;color:#2a2a2a;letter-spacing:0.121px;">Argentina</div>
<div class="t" style="left:677.56px;top:1163px;font:400 11.5px 'Liberation Sans', sans-serif;line-height:14px;color:#2a2a2a;letter-spacing:0.250px;">15.9</div>
<div class="t" style="left:733.86px;top:1163px;font:400 11.5px 'Liberation Sans', sans-serif;line-height:14px;color:#2a2a2a;letter-spacing:0.250px;">18.5</div>
<div class="t" style="left:792.86px;top:1163px;font:400 11.5px 'Liberation Sans', sans-serif;line-height:14px;color:#2a2a2a;letter-spacing:0.250px;">20.5</div>
<div class="t" style="left:860.76px;top:1163px;font:400 11.5px 'Liberation Sans', sans-serif;line-height:14px;color:#2a2a2a;letter-spacing:0.250px;">10.8</div>
<div class="t" style="left:507.70px;transform:scaleX(0.9916);transform-origin:0 0;top:1182px;font:400 11.5px 'Liberation Sans', sans-serif;line-height:14px;color:#2a2a2a;">Iran Islamic Rep Of</div>
<div class="t" style="left:677.56px;top:1182px;font:400 11.5px 'Liberation Sans', sans-serif;line-height:14px;color:#2a2a2a;letter-spacing:0.250px;">16.6</div>
<div class="t" style="left:733.86px;top:1182px;font:400 11.5px 'Liberation Sans', sans-serif;line-height:14px;color:#2a2a2a;letter-spacing:0.250px;">16.8</div>
<div class="t" style="left:792.86px;top:1182px;font:400 11.5px 'Liberation Sans', sans-serif;line-height:14px;color:#2a2a2a;letter-spacing:0.250px;">13.5</div>
<div class="t" style="left:856.68px;top:1182px;font:400 11.5px 'Liberation Sans', sans-serif;line-height:14px;color:#2a2a2a;letter-spacing:0.250px;">-19.4</div>
<div class="t" style="left:507.70px;top:1201px;font:400 11.5px 'Liberation Sans', sans-serif;line-height:14px;color:#2a2a2a;letter-spacing:0.296px;">United Kingdom of Great</div>
<div class="t" style="left:677.56px;top:1208px;font:400 11.5px 'Liberation Sans', sans-serif;line-height:14px;color:#2a2a2a;letter-spacing:0.250px;">14.0</div>
<div class="t" style="left:734.72px;top:1208px;font:400 11.5px 'Liberation Sans', sans-serif;line-height:14px;color:#2a2a2a;letter-spacing:0.250px;">11.1</div>
<div class="t" style="left:792.86px;top:1208px;font:400 11.5px 'Liberation Sans', sans-serif;line-height:14px;color:#2a2a2a;letter-spacing:0.250px;">13.0</div>
<div class="t" style="left:860.76px;top:1208px;font:400 11.5px 'Liberation Sans', sans-serif;line-height:14px;color:#2a2a2a;letter-spacing:0.250px;">16.6</div>
<div class="t" style="left:507.70px;top:1230px;font:400 11.5px 'Liberation Sans', sans-serif;line-height:14px;color:#2a2a2a;letter-spacing:0.144px;">Total of leading producers</div>
<div class="t" style="left:670.92px;top:1230px;font:400 11.5px 'Liberation Sans', sans-serif;line-height:14px;color:#2a2a2a;letter-spacing:0.250px;">712.8</div>
<div class="t" style="left:727.22px;top:1230px;font:400 11.5px 'Liberation Sans', sans-serif;line-height:14px;color:#2a2a2a;letter-spacing:0.250px;">718.2</div>
<div class="t" style="left:786.22px;top:1230px;font:400 11.5px 'Liberation Sans', sans-serif;line-height:14px;color:#2a2a2a;letter-spacing:0.250px;">721.7</div>
<div class="t" style="left:867.40px;top:1230px;font:400 11.5px 'Liberation Sans', sans-serif;line-height:14px;color:#2a2a2a;letter-spacing:0.250px;">0.5</div>
<div class="t" style="left:507.70px;top:1216px;font:400 11.5px 'Liberation Sans', sans-serif;line-height:14px;color:#2a2a2a;letter-spacing:0.190px;">Britain and Northern Ireland</div>
<div class="t" style="left:508.20px;transform:scaleX(1.1000);transform-origin:0 0;top:1253px;font:700 11px 'Liberation Sans', sans-serif;line-height:14px;color:#151515;letter-spacing:0.121px;">World</div>
<div class="t" style="left:671.12px;top:1253px;font:700 11.5px 'Liberation Sans', sans-serif;line-height:14px;color:#151515;letter-spacing:0.200px;">791.9</div>
<div class="t" style="left:727.42px;top:1253px;font:700 11.5px 'Liberation Sans', sans-serif;line-height:14px;color:#151515;letter-spacing:0.200px;">797.7</div>
<div class="t" style="left:786.42px;top:1253px;font:700 11.5px 'Liberation Sans', sans-serif;line-height:14px;color:#151515;letter-spacing:0.200px;">800.1</div>
<div class="t" style="left:867.50px;top:1253px;font:700 11.5px 'Liberation Sans', sans-serif;line-height:14px;color:#151515;letter-spacing:0.200px;">0.3</div>
<div class="t" style="left:504.60px;top:1273px;font:400 10.7px 'Liberation Sans', sans-serif;line-height:14px;color:#2a2a2a;letter-spacing:0.052px;">Notes: * Countries listed according to their position in global production (average</div>
<div class="t" style="left:504.60px;top:1289px;font:400 10.7px 'Liberation Sans', sans-serif;line-height:14px;color:#2a2a2a;letter-spacing:0.136px;">2022-2024).</div>
</body></html>
